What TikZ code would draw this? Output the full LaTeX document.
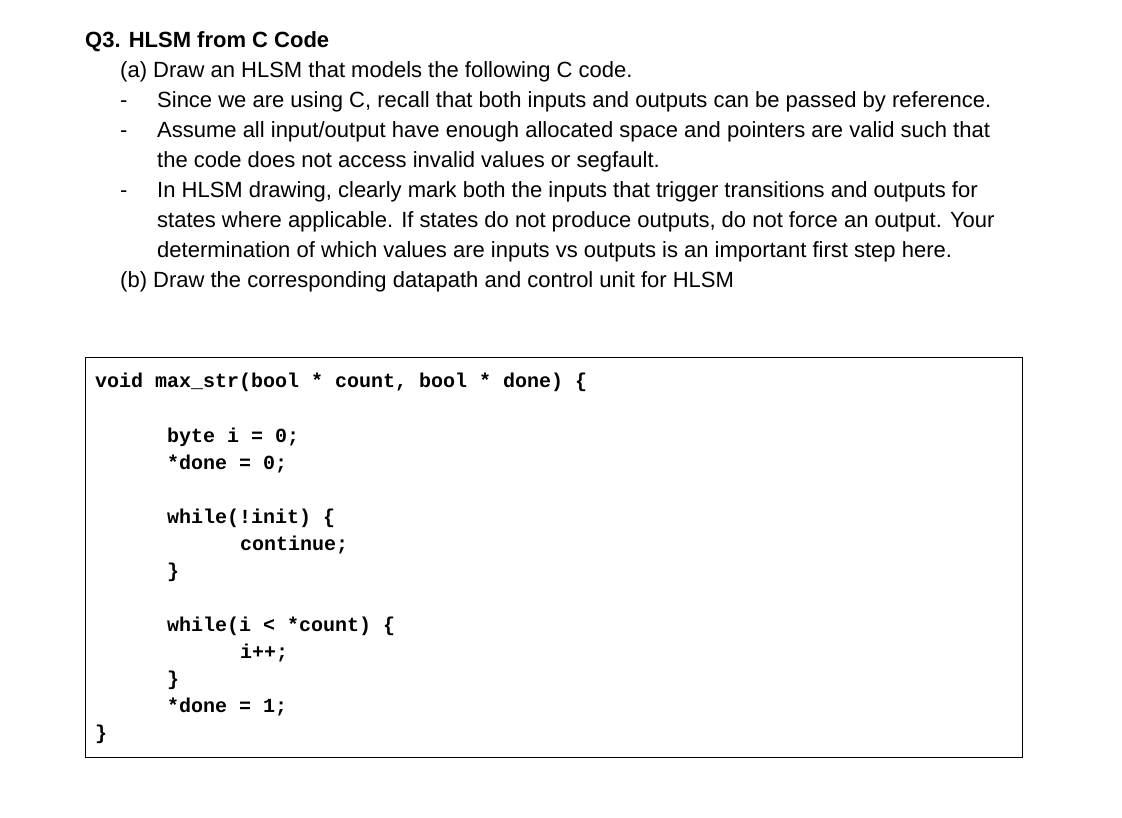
\documentclass[tikz,border=0pt]{standalone}
\usepackage{fontspec}
\setmainfont{Liberation Sans}
\newfontfamily\codefont{Liberation Mono}
\begin{document}
\begin{tikzpicture}[x=1pt,y=-1pt,
  tx/.style={anchor=base west,inner sep=0pt,font=\fontsize{22}{26}\selectfont},
  cd/.style={anchor=base west,inner sep=0pt,font=\codefont\bfseries\fontsize{20}{22}\selectfont}]
\useasboundingbox[fill=white] (0,0) rectangle (1122,818);
\node[tx,font=\bfseries\fontsize{22}{26}\selectfont] (t) at (85,48) {Q3. HLSM from C Code};
\node[tx] (a) at (120,78) {(a) Draw an HLSM that models the following C code.};
\foreach \y in {108,138,198} \node[tx] at (120,\y) {-};
\node[tx] (l1) at (157,108) {Since we are using C, recall that both inputs and outputs can be passed by reference.};
\node[tx] (l2) at (157,138) {Assume all input/output have enough allocated space and pointers are valid such that};
\node[tx] (l3) at (157,168) {the code does not access invalid values or segfault.};
\node[tx] (l4) at (157,198) {In HLSM drawing, clearly mark both the inputs that trigger transitions and outputs for};
\node[tx] (l5) at (157,228) {states where applicable. If states do not produce outputs, do not force an output. Your};
\node[tx] (l6) at (157,258) {determination of which values are inputs vs outputs is an important first step here.};
\node[tx] (b) at (120,288) {(b) Draw the corresponding datapath and control unit for HLSM};
\draw[line width=1pt] (85,357) rectangle (1022,757);
\node[cd] (c0) at (95,388) {void max\_str(bool * count, bool * done) \{};
\node[cd] (c1) at (167,442) {byte i = 0;};
\node[cd] (c2) at (167,469) {*done = 0;};
\node[cd] (c3) at (167,523) {while(!init) \{};
\node[cd] (c4) at (240,550) {continue;};
\node[cd] (c5) at (167,577) {\}};
\node[cd] (c6) at (167,631) {while(i < *count) \{};
\node[cd] (c7) at (240,658) {i++;};
\node[cd] (c8) at (167,685) {\}};
\node[cd] (c9) at (167,712) {*done = 1;};
\node[cd] (c10) at (95,739) {\}};
\end{tikzpicture}
\end{document}
